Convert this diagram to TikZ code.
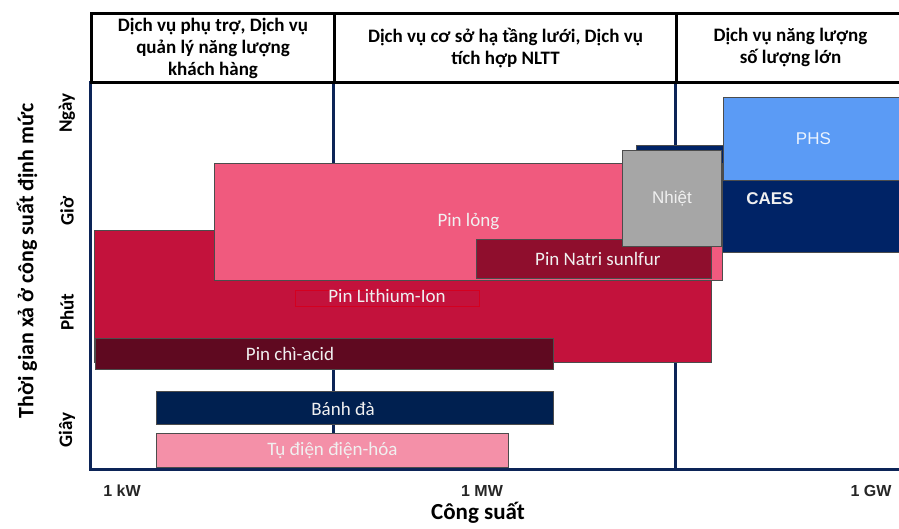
\documentclass[tikz,border=0pt]{standalone}
\usepackage{fontspec}
\setmainfont{Carlito}
\newfontfamily\arialfont{Liberation Sans}
\definecolor{framenavy}{HTML}{0C2457}
\definecolor{phsblue}{HTML}{5B9BF5}
\definecolor{caesnavy}{HTML}{002366}
\definecolor{nhietgray}{HTML}{A6A6A6}
\definecolor{pinlong}{HTML}{F05A7E}
\definecolor{lithium}{HTML}{C3123C}
\definecolor{natri}{HTML}{8F0E2D}
\definecolor{chiacid}{HTML}{5F0920}
\definecolor{banhda}{HTML}{002050}
\definecolor{tudien}{HTML}{F490A8}
\definecolor{liborder}{HTML}{D4001F}

\begin{document}
\begin{tikzpicture}[
  x=1pt, y=-1pt,
  box/.style={draw=black!70, line width=0.8pt, anchor=north west, inner sep=0pt,
    text=white!94!black, font=\fontsize{19}{22}\selectfont},
  abox/.style={box, font=\arialfont\fontsize{17}{20}\selectfont},
  lbl/.style={text=white!94!black, font=\fontsize{19}{22}\selectfont},
  hcell/.style={draw=black, line width=3pt, anchor=north west, align=center,
    inner sep=0pt, font=\bfseries\fontsize{19}{22}\selectfont},
  tick/.style={rotate=90, font=\bfseries\fontsize{19}{22}\selectfont},
  pw/.style={font=\arialfont\bfseries\fontsize{16}{18}\selectfont, text=black!85},
  frame/.style={draw=framenavy, line width=3pt}
]
  \useasboundingbox (0,0) rectangle (899,528);

  % frame
  \draw[frame] (90,81) -- (90,469) -- (905,469);
  \draw[frame] (333,81) -- (333,469);
  \draw[frame] (675,81) -- (675,469);

  % header
  \node[hcell, minimum width=243, minimum height=69] (h1) at (90,12)
    {Dịch vụ phụ trợ, Dịch vụ\\quản lý năng lượng\\khách hàng};
  \node[hcell, minimum width=342, minimum height=69] (h2) at (333,12)
    {Dịch vụ cơ sở hạ tầng lưới, Dịch vụ\\tích hợp NLTT};
  \node[hcell, minimum width=228, minimum height=69] (h3) at (675,12)
    {Dịch vụ năng lượng\\số lượng lớn};

  % storage boxes
  \node[abox, fill=caesnavy, minimum width=267, minimum height=107,
    font=\arialfont\bfseries\fontsize{17}{20}\selectfont] (caes) at (636,145) {CAES};
  \node[abox, fill=phsblue, minimum width=180, minimum height=83,
    text=white!88!phsblue] (phs) at (723,97) {PHS};
  \node[box, fill=lithium, minimum width=617, minimum height=132] (li) at (94,230) {};
  \node[box, fill=pinlong, minimum width=508, minimum height=117] (long) at (214,163)
    {Pin lỏng};
  \node[box, fill=natri, minimum width=235, minimum height=39] (natri) at (476,239)
    {\hspace{8pt}Pin Natri sunlfur};
  \node[abox, fill=nhietgray, minimum width=99, minimum height=96] (nhiet) at (622,150)
    {Nhiệt};
  \node[box, fill=chiacid, minimum width=458, minimum height=31] (chi) at (95,338) {};
  \node[lbl] (chilbl) at (290,354) {Pin chì-acid};
  \node[lbl, draw=liborder, line width=1pt, fill=lithium, minimum width=184,
    inner sep=0pt, text height=12pt, text depth=4pt] (lilbl) at (387,298.5)
    {Pin Lithium-Ion};
  \node[box, fill=banhda, minimum width=397, minimum height=33] (banh) at (156,391) {};
  \node[lbl] (banhlbl) at (343,409) {Bánh đà};
  \node[box, fill=tudien, minimum width=352, minimum height=34] (tu) at (156,433)
    {Tụ điện điện-hóa};

  % axes
  \node[tick] (ngay) at (67,113) {Ngày};
  \node[tick] (gio) at (67,211) {Giờ};
  \node[tick] (phut) at (67,312) {Phút};
  \node[tick] (giay) at (67,430) {Giây};
  \node[rotate=90, font=\bfseries\fontsize{22}{26}\selectfont] (ytitle) at (27,261)
    {Thời gian xả ở công suất định mức};

  \node[pw] (kw) at (122,491) {1 kW};
  \node[pw] (mw) at (482,491) {1 MW};
  \node[pw] (gw) at (871,491) {1 GW};
  \node[font=\bfseries\fontsize{23}{26}\selectfont] (xtitle) at (478,513) {Công suất};
\end{tikzpicture}
\end{document}
